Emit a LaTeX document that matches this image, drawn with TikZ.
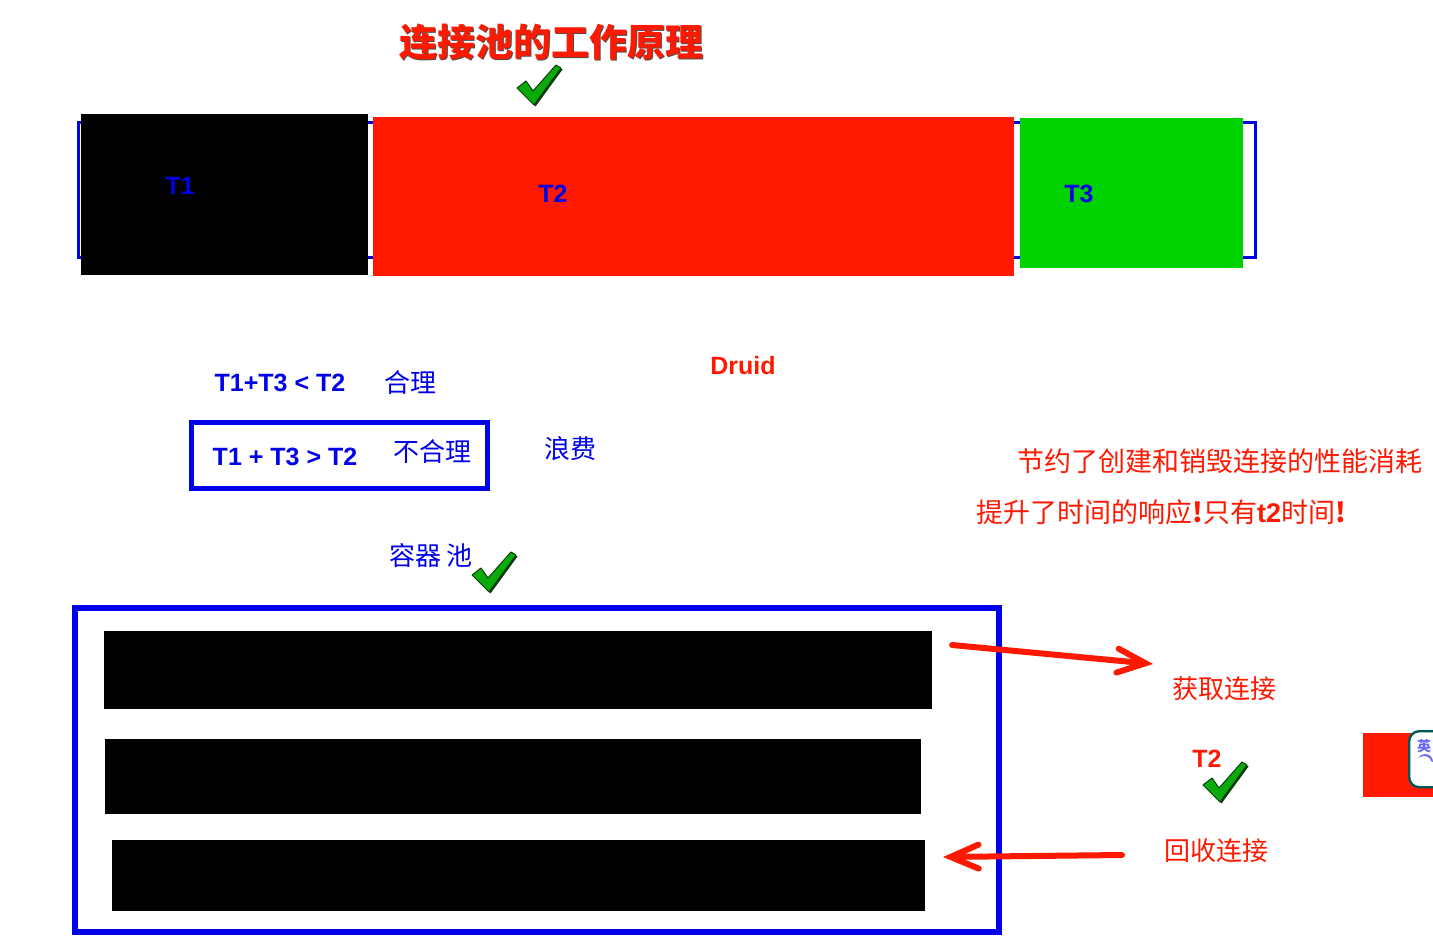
\documentclass[tikz,border=0pt]{standalone}
\usepackage{fontspec}
\setmainfont{Liberation Sans}
\newfontfamily\cjk{Noto Sans CJK SC}
\usetikzlibrary{arrows.meta}
\definecolor{tblue}{RGB}{0,0,235}
\definecolor{tred}{RGB}{255,25,0}
\definecolor{tgreen}{RGB}{0,210,0}
\definecolor{cgreen}{RGB}{10,170,10}
\definecolor{cdark}{RGB}{10,60,10}
\tikzset{
  chk/.pic={\fill[cdark] (1.5,24.5) -- (10.5,18) -- (17.5,28) -- (40.5,1.5) -- (45.5,4.5) -- (18.5,41.5) -- cycle;
     \fill[cgreen,draw=cdark,line width=0.5pt,line join=round]
     (0,23) -- (9,16) -- (16,26) -- (39,0) -- (44,3) -- (17,40) -- cycle;},
  lat/.style={font=\fontsize{12.5}{14}\selectfont\bfseries, inner sep=0pt},
  zh/.style={font=\cjk\fontsize{13}{15}\selectfont, inner sep=0pt},
  zhred/.style={font=\cjk\fontsize{13.5}{16}\selectfont, inner sep=0pt, text=tred},
  blk/.style={fill=black, draw=none},
  redarrow/.style={draw=tred, line width=3pt, line cap=round, line join=round,
     -{Straight Barb[length=14pt,width=12pt,line cap=round]}},
}
\begin{document}
\begin{tikzpicture}[x=0.5pt,y=-0.5pt]
\useasboundingbox (0,0) rectangle (1433,946);
\clip (0,0) rectangle (1433,946);
\fill[white] (0,0) rectangle (1433,946);

% title
\node[font=\cjk\fontsize{19}{22}\selectfont\bfseries, text=black!70, inner sep=0pt] (titleshadow) at (552.2,43.2) {连接池的工作原理};
\node[font=\cjk\fontsize{19}{22}\selectfont\bfseries, text=tred, inner sep=0pt] (title) at (551,42) {连接池的工作原理};
\pic at (517,65) {chk};

% top bar
\draw[tblue, line width=1.5pt] (78,123) rectangle (1255,258);
\node[blk, minimum width=143.5pt, minimum height=80.5pt, anchor=north west, inner sep=0pt] (b1) at (81,114) {};
\node[fill=tred, minimum width=320.5pt, minimum height=79.5pt, anchor=north west, inner sep=0pt] (b2) at (373,117) {};
\node[fill=tgreen, minimum width=111.5pt, minimum height=75pt, anchor=north west, inner sep=0pt] (b3) at (1020,118) {};
\node[lat, text=tblue] (t1) at (180,186) {T1};
\node[lat, text=tblue] (t2) at (553,194) {T2};
\node[lat, text=tblue] (t3) at (1079,194) {T3};

% middle texts
\node[lat, text=tred] (druid) at (743,366) {Druid};
\node[lat, text=tblue] (ineq1) at (280,383) {T1+T3 < T2};
\node[zh, text=tblue] (heli) at (410,383) {合理};
\node[draw=tblue, line width=2.5pt, minimum width=148pt, minimum height=33pt, inner sep=0pt] (box) at (339.5,455.5) {};
\node[lat, text=tblue] (ineq2) at (285,457) {T1 + T3 > T2};
\node[zh, text=tblue] (buheli) at (432,452) {不合理};
\node[zh, text=tblue] (langfei) at (570,449) {浪费};
\node[zhred] (line1) at (1220,461) {节约了创建和销毁连接的性能消耗};
\node[zhred] (line2) at (1161,512) {提升了时间的响应\textbf{!}只有{\fontspec{Liberation Sans}\bfseries t2}时间\textbf{!}};
\node[zh, text=tblue] (rongqi) at (431,556) {容器\ 池};
\pic at (472,552) {chk};

% pool
\draw[tblue, line width=3pt] (75,608) rectangle (999,932);
\node[blk, minimum width=414pt, minimum height=39pt, anchor=north west, inner sep=0pt] (c1) at (104,631) {};
\node[blk, minimum width=408pt, minimum height=37.5pt, anchor=north west, inner sep=0pt] (c2) at (105,739) {};
\node[blk, minimum width=406.5pt, minimum height=35.5pt, anchor=north west, inner sep=0pt] (c3) at (112,840) {};

% arrows and labels
\coordinate (a1s) at (952,645);
\coordinate (a1e) at (1153,664);
\coordinate (a2s) at (1122,855);
\coordinate (a2e) at (943,857);
\draw[redarrow] (a1s) -- (a1e);
\draw[redarrow] (a2s) -- (a2e);
\node[zh, text=tred] (huoqu) at (1224,689) {获取连接};
\node[lat, text=tred] (t2b) at (1207,759) {T2};
\pic at (1203,762) {chk};
\node[zh, text=tred] (huishou) at (1216,851) {回收连接};

% right edge fragment
\node[fill=tred, minimum width=35pt, minimum height=32pt, anchor=north west, inner sep=0pt] (redfrag) at (1363,733) {};
\node[draw=teal!70!black, fill=white, line width=1.2pt, rounded corners=5pt, minimum width=25pt, minimum height=28pt, anchor=north west, inner sep=0pt] (ime) at (1408,730) {};
\node[font=\cjk\fontsize{7}{8}\selectfont\bfseries, text=blue!60, inner sep=0pt] (imetext) at (1424,746) {英};
\fill[blue!60] (1433,762) arc[start angle=0, end angle=-160, radius=8] arc[start angle=-160, end angle=0, x radius=7, y radius=5] -- cycle;
\end{tikzpicture}
\end{document}
